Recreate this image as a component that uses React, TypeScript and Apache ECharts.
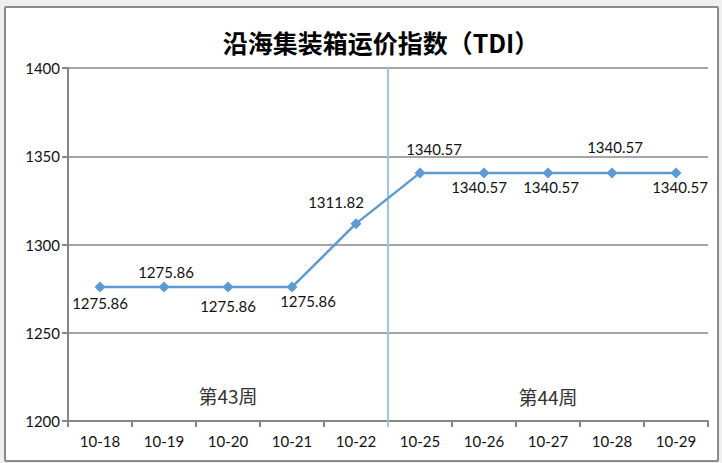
import React, { useEffect, useRef } from "react";
import * as echarts from "echarts";

const titleText = "沿海集装箱运价指数（TDI）";
const categories = ["10-18", "10-19", "10-20", "10-21", "10-22", "10-25", "10-26", "10-27", "10-28", "10-29"];
const values = [1275.86, 1275.86, 1275.86, 1275.86, 1311.82, 1340.57, 1340.57, 1340.57, 1340.57, 1340.57];
const labelOffsets: [number, number][] = [
  [0, 16], [2, -15], [0, 19], [16, 14], [-20, -22],
  [14, -24], [-5, 14], [3, 14], [3, -26], [4, 14],
];
const weekLabels = [
  { name: "第43周", at: "10-20", y: 1214.7 },
  { name: "第44周", at: "10-27", y: 1213.6 },
];
const weekBoundaryAfter = 4; // boundary between index 4 and 5
const yMin = 1200;
const yMax = 1400;
const yInterval = 50;

export default function App() {
  const ref = useRef<HTMLDivElement>(null);
  useEffect(() => {
    document.body.style.margin = "0";
    if (!ref.current) return;
    const chart = echarts.init(ref.current, undefined, { renderer: "svg" });
    const font = "Lato, 'Noto Sans', sans-serif";
    chart.setOption({
      animation: false,
      backgroundColor: "transparent",
      title: {
        text: titleText,
        left: 376,
        top: 24,
        textAlign: "center",
        textStyle: {
          fontFamily: "'Noto Sans CJK SC', sans-serif",
          fontWeight: "bold",
          fontSize: 25,
          color: "#000",
        },
      },
      grid: { left: 68, top: 68, right: 14, bottom: 42 },
      xAxis: {
        type: "category",
        data: categories,
        boundaryGap: true,
        axisLine: { lineStyle: { color: "#878787", width: 2 } },
        axisTick: { show: true, length: 6, lineStyle: { color: "#878787", width: 2 } },
        axisLabel: { color: "#111", fontSize: 15, fontFamily: font, margin: 12 },
        splitLine: { show: false },
      },
      yAxis: {
        type: "value",
        min: yMin,
        max: yMax,
        interval: yInterval,
        axisLine: { show: true, lineStyle: { color: "#878787", width: 2 } },
        axisTick: { show: true, length: 6, lineStyle: { color: "#878787", width: 2 } },
        axisLabel: { color: "#111", fontSize: 15, fontFamily: font, margin: 8, formatter: (v: number) => String(v) },
        splitLine: { show: true, lineStyle: { color: "#878787", width: 1.5 } },
      },
      series: [
        {
          type: "line",
          z: 3,
          data: values.map((v, i) => ({
            value: v,
            label: { offset: labelOffsets[i] },
          })),
          symbol: "diamond",
          symbolSize: 11,
          itemStyle: { color: "#5b9bd5" },
          lineStyle: { color: "#5b9bd5", width: 2.5 },
          label: {
            show: true,
            position: "inside",
            color: "#111",
            fontSize: 15,
            fontFamily: font,
            formatter: (p: any) => p.value.toFixed(2),
          },
          markPoint: {
            symbol: "circle",
            symbolSize: 0,
            silent: true,
            label: {
              show: true,
              position: "inside",
              color: "#333",
              fontSize: 19,
              fontFamily: "'Noto Sans CJK SC', sans-serif",
              formatter: (p: any) => p.name,
            },
            data: weekLabels.map((w) => ({ name: w.name, coord: [w.at, w.y] })),
          },
        },
      ],
    });
    const xa = chart.convertToPixel({ xAxisIndex: 0 }, categories[weekBoundaryAfter]) as number;
    const xb = chart.convertToPixel({ xAxisIndex: 0 }, categories[weekBoundaryAfter + 1]) as number;
    const yTop = chart.convertToPixel({ yAxisIndex: 0 }, yMax) as number;
    const yBot = chart.convertToPixel({ yAxisIndex: 0 }, yMin) as number;
    const xm = (xa + xb) / 2;
    chart.setOption({
      graphic: [
        {
          type: "line",
          z: 2,
          silent: true,
          shape: { x1: xm, y1: yTop, x2: xm, y2: yBot + 6 },
          style: { stroke: "#9dc3e6", lineWidth: 2 },
        },
      ],
    });
    return () => chart.dispose();
  }, []);
  return (
    <div style={{ position: "relative", width: 722, height: 463, background: "#efefef" }}>
      <div
        style={{
          position: "absolute",
          left: 4,
          top: 6,
          width: 711,
          height: 452,
          background: "#fff",
          border: "2px solid #8a8a8a",
          borderRadius: 2,
        }}
      />
      <div ref={ref} style={{ position: "absolute", left: 0, top: 0, width: 722, height: 463 }} />
    </div>
  );
}
